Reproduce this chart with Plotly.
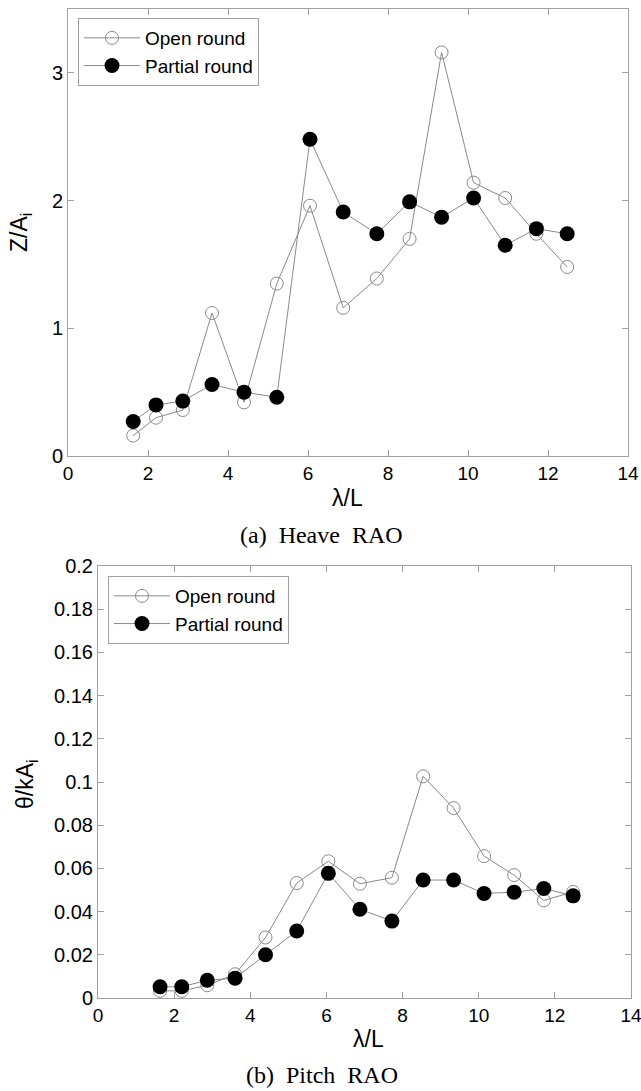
import plotly.graph_objects as go

# ---- data ----
wave_ratio = [1.63, 2.2, 2.87, 3.6, 4.4, 5.22, 6.05, 6.88, 7.72, 8.54, 9.34, 10.14, 10.93, 11.71, 12.48]
heave_open = [0.16, 0.30, 0.36, 1.12, 0.42, 1.35, 1.96, 1.16, 1.39, 1.70, 3.16, 2.14, 2.02, 1.74, 1.48]
heave_partial = [0.27, 0.40, 0.43, 0.56, 0.50, 0.46, 2.48, 1.91, 1.74, 1.99, 1.87, 2.02, 1.65, 1.78, 1.74]
pitch_open = [0.0033, 0.0033, 0.0059, 0.011, 0.028, 0.0532, 0.0633, 0.0529, 0.0557, 0.1026, 0.0879, 0.0657, 0.0569, 0.0452, 0.0491]
pitch_partial = [0.0052, 0.0052, 0.0082, 0.0092, 0.020, 0.031, 0.0577, 0.0411, 0.0356, 0.0546, 0.0546, 0.0484, 0.049, 0.0507, 0.0473]
series_names = ["Open round", "Partial round"]
x_ticks = [0, 2, 4, 6, 8, 10, 12, 14]
heave_ticks = [0, 1, 2, 3]
pitch_ticks = [0, 0.02, 0.04, 0.06, 0.08, 0.1, 0.12, 0.14, 0.16, 0.18, 0.2]
captions = ["(a)  Heave  RAO", "(b)  Pitch  RAO"]

W, H = 641, 1091
LINE = "#8a8a8a"
AX = "#a0a0a0"
SANS = "Liberation Sans, Arial, sans-serif"
SERIF = "Liberation Serif, DejaVu Serif, serif"

def px(x):
    return x / W

def py(y):
    return 1 - y / H

fig = go.Figure()

def add_pair(yopen, ypart, xa, ya, legend):
    fig.add_trace(go.Scatter(
        x=wave_ratio, y=yopen, mode="lines+markers", name=series_names[0],
        xaxis=xa, yaxis=ya, legend=legend,
        line=dict(color=LINE, width=1),
        marker=dict(symbol="circle-open", size=13, color=LINE, line=dict(width=1, color=LINE)),
    ))
    fig.add_trace(go.Scatter(
        x=wave_ratio, y=ypart, mode="lines+markers", name=series_names[1],
        xaxis=xa, yaxis=ya, legend=legend,
        line=dict(color=LINE, width=1),
        marker=dict(symbol="circle", size=15, color="black", line=dict(width=0)),
    ))

add_pair(heave_open, heave_partial, "x", "y", "legend")
add_pair(pitch_open, pitch_partial, "x2", "y2", "legend2")

axis_common = dict(
    showline=True, linecolor=AX, linewidth=1, mirror="ticks",
    ticks="inside", ticklen=6, tickcolor=AX, showgrid=False, zeroline=False,
    automargin=False, ticklabeloverflow="allow",
)
xfont = dict(tickfont=dict(family=SANS, size=19, color="black"))
yfont = dict(tickfont=dict(family=SANS, size=20, color="black"))

legend_common = dict(
    xanchor="left", yanchor="top", bgcolor="white", bordercolor=AX, borderwidth=1,
    font=dict(family=SANS, size=19, color="black"), tracegroupgap=0, itemwidth=56,
)

fig.update_layout(
    width=W, height=H,
    margin=dict(l=0, r=0, t=0, b=0, pad=0, autoexpand=False),
    paper_bgcolor="white", plot_bgcolor="white",
    xaxis=dict(domain=[px(68), px(628)], range=[0, 14], tickvals=x_ticks, anchor="y", **axis_common, **xfont),
    yaxis=dict(domain=[py(456), py(9)], range=[0, 3.5], tickvals=heave_ticks, anchor="x", **axis_common, **yfont),
    xaxis2=dict(domain=[px(98), px(631)], range=[0, 14], tickvals=x_ticks, anchor="y2", **axis_common, **xfont),
    yaxis2=dict(domain=[py(998), py(566)], range=[0, 0.2], tickvals=pitch_ticks,
                ticktext=[("%g" % v) for v in pitch_ticks], anchor="x2", **axis_common, **yfont),
    legend=dict(x=px(78), y=py(18), **legend_common),
    legend2=dict(x=px(108), y=py(576), **legend_common),
    showlegend=True,
)

ann = [
    dict(text="λ/L", x=px(347), y=py(498)),
    dict(text="λ/L", x=px(368), y=py(1039)),
    dict(text=captions[0], x=px(322), y=py(535), font=dict(family=SERIF, size=24, color="black")),
    dict(text=captions[1], x=px(322), y=py(1075), font=dict(family=SERIF, size=24, color="black")),
    dict(text="Z/A<sub>i</sub>", x=px(20), y=py(233), textangle=-90),
    dict(text="θ/kA<sub>i</sub>", x=px(26), y=py(784), textangle=-90),
]
for a in ann:
    a.setdefault("font", dict(family=SANS, size=23, color="black"))
    a.update(xref="paper", yref="paper", showarrow=False, xanchor="center", yanchor="middle")
fig.update_layout(annotations=ann)

fig.write_html(
    "out.html",
    config={"displayModeBar": False},
    post_script="document.body.style.margin='0';document.body.style.padding='0';document.body.style.overflow='hidden';",
)
